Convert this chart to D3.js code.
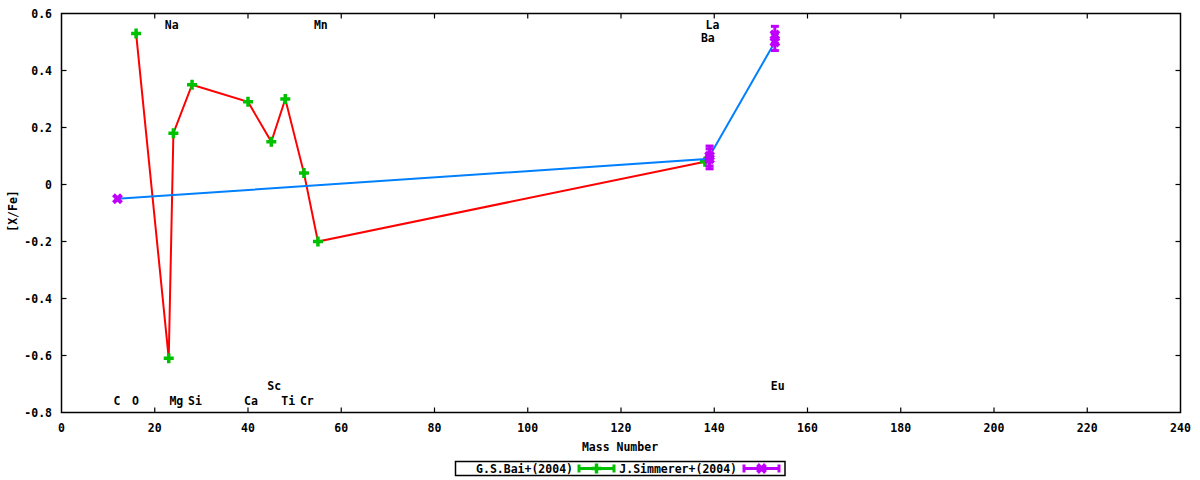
<!DOCTYPE html>
<html>
<head>
<meta charset="utf-8">
<script src="https://cdn.jsdelivr.net/npm/d3@7"></script>
<style>
  html, body { margin: 0; padding: 0; background: #fff; }
  svg text { font-family: "DejaVu Sans Mono", "Liberation Mono", monospace; font-weight: bold; font-size: 11.5px; fill: #000; }
</style>
</head>
<body>
<svg id="chart" width="1200" height="480"></svg>
<script>
// ---- data ----
const baiMass  = [16, 23, 24, 28, 40, 45, 48, 52, 55, 138];
const baiValue = [0.53, -0.61, 0.18, 0.35, 0.29, 0.15, 0.30, 0.04, -0.20, 0.08];

const simMass  = [12, 139, 139, 153, 153];
const simValue = [-0.05, 0.09, 0.10, 0.50, 0.525];
const simError = [0, 0.035, 0.035, 0.03, 0.03];

const elementNames = ["C", "O", "Na", "Mg", "Si", "Ca", "Sc", "Ti", "Cr", "Mn", "Ba", "La", "Eu"];
const elementMass  = [12, 16, 23, 24, 28, 40, 45, 48, 52, 55, 138, 139, 153];
const elementLabelY = [-0.775, -0.775, 0.545, -0.775, -0.775, -0.775, -0.72, -0.775, -0.775, 0.545, 0.50, 0.545, -0.72];

const xTicks = [0, 20, 40, 60, 80, 100, 120, 140, 160, 180, 200, 220, 240];
const yTicks = [-0.8, -0.6, -0.4, -0.2, 0, 0.2, 0.4, 0.6];

const seriesNames = ["G.S.Bai+(2004)", "J.Simmerer+(2004)"];
const xLabel = "Mass Number";
const yLabel = "[X/Fe]";

// ---- layout ----
const svg = d3.select("#chart");
const L = 61.5, R = 1180.5, T = 13.5, B = 412.5;
const x = d3.scaleLinear().domain([0, 240]).range([L, R]);
const y = d3.scaleLinear().domain([-0.8, 0.6]).range([B, T]);

const RED = "#ff0000", GREEN = "#00c000", BLUE = "#0080ff", PURPLE = "#c000ff";

// ticks (inward, mirrored)
const tickG = svg.append("g").attr("stroke", "#000").attr("stroke-width", 1.2);
xTicks.forEach(t => {
  if (t === 0 || t === 240) return;
  tickG.append("line").attr("x1", x(t)).attr("x2", x(t)).attr("y1", B).attr("y2", B - 5);
  tickG.append("line").attr("x1", x(t)).attr("x2", x(t)).attr("y1", T).attr("y2", T + 5);
});
yTicks.forEach(t => {
  if (t === -0.8 || t === 0.6) return;
  tickG.append("line").attr("x1", L).attr("x2", L + 5).attr("y1", y(t)).attr("y2", y(t));
  tickG.append("line").attr("x1", R).attr("x2", R - 5).attr("y1", y(t)).attr("y2", y(t));
});

// tick labels
const fmtY = d => d === 0 ? "0" : d3.format(".1f")(d).replace("−", "-");
svg.append("g").selectAll("text").data(xTicks).join("text")
  .attr("x", d => x(d)).attr("y", 431.5).attr("text-anchor", "middle").text(d => d);
svg.append("g").selectAll("text").data(yTicks).join("text")
  .attr("x", 52).attr("y", d => y(d) + 4).attr("text-anchor", "end").text(fmtY);

// axis labels
svg.append("text").attr("x", 620).attr("y", 450.5).attr("text-anchor", "middle").text(xLabel);
svg.append("text").attr("transform", "translate(16.5,211) rotate(-90)").attr("text-anchor", "middle").text(yLabel);

// border
svg.append("rect").attr("x", L).attr("y", T).attr("width", R - L).attr("height", B - T)
  .attr("fill", "none").attr("stroke", "#000").attr("stroke-width", 1.5);

// element labels
svg.append("g").selectAll("text").data(elementNames).join("text")
  .attr("x", (d, i) => x(elementMass[i]) - 4)
  .attr("y", (d, i) => y(elementLabelY[i]))
  .attr("text-anchor", "start").text(d => d);

// marker helpers
function plusPath(cx, cy, s) { return `M${cx - s},${cy}H${cx + s}M${cx},${cy - s}V${cy + s}`; }
function crossPath(cx, cy, s) { return `M${cx - s},${cy - s}L${cx + s},${cy + s}M${cx - s},${cy + s}L${cx + s},${cy - s}`; }

// Bai series
const baiPts = baiMass.map((m, i) => [x(m), y(baiValue[i])]);
svg.append("path").attr("d", d3.line()(baiPts)).attr("fill", "none").attr("stroke", RED).attr("stroke-width", 2);
svg.append("g").selectAll("path").data(baiPts).join("path")
  .attr("d", p => plusPath(p[0], p[1], 5)).attr("stroke", GREEN).attr("stroke-width", 3.5).attr("fill", "none");

// Simmerer series
const simPts = simMass.map((m, i) => [x(m), y(simValue[i])]);
svg.append("path").attr("d", d3.line()(simPts)).attr("fill", "none").attr("stroke", BLUE).attr("stroke-width", 2);
const eg = svg.append("g").attr("stroke", PURPLE).attr("fill", "none");
simPts.forEach((p, i) => {
  const e = simError[i];
  if (e > 0) {
    const y1 = y(simValue[i] + e), y2 = y(simValue[i] - e);
    eg.append("line").attr("x1", p[0]).attr("x2", p[0]).attr("y1", y1).attr("y2", y2).attr("stroke-width", 3);
    eg.append("line").attr("x1", p[0] - 4).attr("x2", p[0] + 4).attr("y1", y1).attr("y2", y1).attr("stroke-width", 3);
    eg.append("line").attr("x1", p[0] - 4).attr("x2", p[0] + 4).attr("y1", y2).attr("y2", y2).attr("stroke-width", 3);
  }
  eg.append("path").attr("d", crossPath(p[0], p[1], 4)).attr("stroke-width", 4);
});

// legend
const lg = svg.append("g");
lg.append("rect").attr("x", 455.5).attr("y", 461.5).attr("width", 329.5).attr("height", 14)
  .attr("fill", "none").attr("stroke", "#000").attr("stroke-width", 1.5);
const legendItems = [
  { name: seriesNames[0], tx: 573, x1: 579, x2: 614, color: GREEN, marker: plusPath },
  { name: seriesNames[1], tx: 737, x1: 744, x2: 779, color: PURPLE, marker: crossPath }
];
legendItems.forEach(it => {
  const cy = 468.5;
  lg.append("text").attr("x", it.tx).attr("y", cy + 4).attr("text-anchor", "end").text(it.name);
  lg.append("line").attr("x1", it.x1).attr("x2", it.x2).attr("y1", cy).attr("y2", cy).attr("stroke", it.color).attr("stroke-width", 3);
  [it.x1, it.x2].forEach(xx => lg.append("line").attr("x1", xx).attr("x2", xx).attr("y1", cy - 4).attr("y2", cy + 4).attr("stroke", it.color).attr("stroke-width", 3));
  const mx = (it.x1 + it.x2) / 2;
  lg.append("path").attr("d", it.marker(mx, cy, it.marker === plusPath ? 5 : 4)).attr("stroke", it.color).attr("stroke-width", it.marker === plusPath ? 3.5 : 4).attr("fill", "none");
});
</script>
</body>
</html>
